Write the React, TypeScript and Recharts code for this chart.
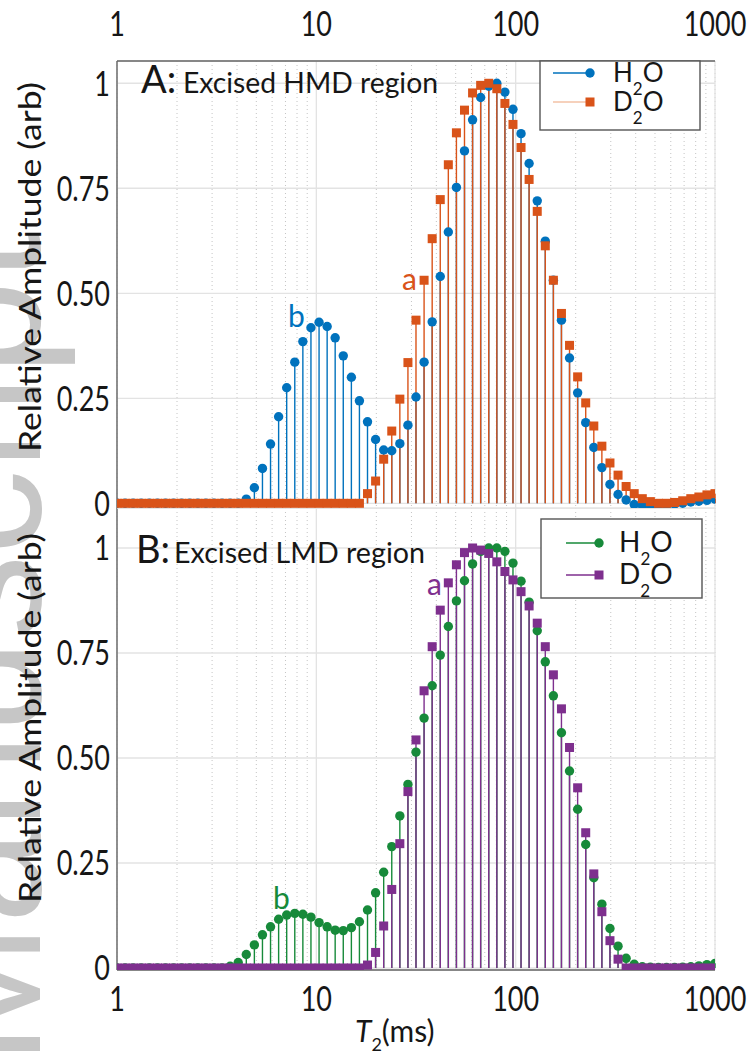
import React from 'react'
import { ScatterChart, Scatter, ErrorBar, XAxis, YAxis, CartesianGrid } from 'recharts'

// T2 grid (ms): 75 log-spaced points, 1 .. 1000
const t2 = [
  1.0, 1.098, 1.205, 1.323, 1.453, 1.595, 1.751, 1.922, 2.11, 2.317,
  2.543, 2.792, 3.065, 3.365, 3.694, 4.056, 4.453, 4.888, 5.367, 5.892,
  6.469, 7.101, 7.796, 8.559, 9.397, 10.32, 11.33, 12.43, 13.65, 14.99,
  16.45, 18.06, 19.83, 21.77, 23.9, 26.24, 28.81, 31.62, 34.72, 38.12,
  41.85, 45.94, 50.44, 55.37, 60.79, 66.74, 73.27, 80.44, 88.31, 96.94,
  106.4, 116.8, 128.3, 140.8, 154.6, 169.7, 186.3, 204.6, 224.6, 246.6,
  270.7, 297.2, 326.3, 358.2, 393.3, 431.8, 474.0, 520.4, 571.3, 627.2,
  688.6, 756.0, 829.9, 911.2, 1000,
]

// A: excised HMD region
const hmdH2O = [
  0, 0, 0, 0, 0, 0, 0, 0, 0, 0,
  0, 0, 0, 0, 0, 0, 0.01, 0.037, 0.083, 0.141,
  0.206, 0.275, 0.336, 0.385, 0.418, 0.431, 0.421, 0.394, 0.351, 0.3,
  0.244, 0.194, 0.152, 0.127, 0.125, 0.142, 0.186, 0.253, 0.336, 0.432,
  0.54, 0.646, 0.752, 0.839, 0.913, 0.966, 0.993, 1.0, 0.979, 0.938,
  0.88, 0.809, 0.72, 0.624, 0.531, 0.436, 0.346, 0.263, 0.192, 0.133,
  0.085, 0.045, 0.021, 0.008, -0.003, -0.005, -0.006, -0.006, -0.005, -0.002,
  0.0, 0.003, 0.005, 0.007, 0.01,
]
const hmdD2O = [
  0, 0, 0, 0, 0, 0, 0, 0, 0, 0,
  0, 0, 0, 0, 0, 0, 0, 0, 0, 0,
  0, 0, 0, 0, 0, 0, 0, 0, 0, 0,
  0, 0.023, 0.053, 0.105, 0.172, 0.248, 0.335, 0.436, 0.531, 0.63,
  0.723, 0.806, 0.882, 0.936, 0.977, 0.995, 1.0, 0.987, 0.952, 0.902,
  0.847, 0.771, 0.695, 0.613, 0.531, 0.452, 0.376, 0.301, 0.239, 0.184,
  0.136, 0.096, 0.067, 0.04, 0.023, 0.011, 0.004, 0.0, 0.0, 0.002,
  0.006, 0.011, 0.015, 0.02, 0.023,
]

// B: excised LMD region
const lmdH2O = [
  0, 0, 0, 0, 0, 0, 0, 0, 0, 0,
  0, 0, 0, 0, 0.004, 0.013, 0.032, 0.055, 0.079, 0.098,
  0.116, 0.126, 0.13, 0.128, 0.121, 0.108, 0.098, 0.09, 0.089, 0.096,
  0.11, 0.138, 0.179, 0.228, 0.289, 0.362, 0.437, 0.514, 0.595, 0.672,
  0.745, 0.813, 0.874, 0.922, 0.962, 0.992, 1.0, 1.0, 0.992, 0.964,
  0.921, 0.871, 0.803, 0.729, 0.648, 0.56, 0.469, 0.378, 0.294, 0.215,
  0.152, 0.094, 0.052, 0.023, 0.009, 0.003, 0.002, 0.001, 0.001, 0.001,
  0.002, 0.003, 0.005, 0.008, 0.011,
]
const lmdD2O = [
  0, 0, 0, 0, 0, 0, 0, 0, 0, 0,
  0, 0, 0, 0, 0, 0, 0, 0, 0, 0,
  0, 0, 0, 0, 0, 0, 0, 0, 0, 0,
  0, 0.007, 0.037, 0.1, 0.187, 0.296, 0.42, 0.543, 0.66, 0.765,
  0.852, 0.917, 0.96, 0.989, 1.0, 0.995, 0.987, 0.967, 0.944, 0.924,
  0.896, 0.862, 0.821, 0.765, 0.698, 0.617, 0.525, 0.429, 0.322, 0.224,
  0.134, 0.065, 0.021, 0, 0, 0, 0, 0, 0, 0,
  0, 0, 0, 0, 0,
]

const xTicks = [1, 10, 100, 1000]
const xTickLabels = ['1', '10', '100', '1000']
const yTicks = [0, 0.25, 0.5, 0.75, 1]
const yTickLabels = ['0', '0.25', '0.50', '0.75', '1']

const xMinor = [2, 3, 4, 5, 6, 7, 8, 9, 20, 30, 40, 50, 60, 70, 80, 90, 200, 300, 400, 500, 600, 700, 800, 900]
const yMinor = Array.from({ length: 45 }, (_, i) => i * 0.025)

const BLUE = '#0072BD'
const ORANGE = '#D95319'
const GREEN = '#178A3A'
const PURPLE = '#7E2F8E'
const FRAME = '#666666'
const INK = '#161616'
const FONT = 'Lato, "Open Sans", sans-serif'

const frameLine = { stroke: FRAME, strokeWidth: 1.4 }

const XTickLabel = (props: any) => {
  const { x, y, payload, top } = props
  const label = xTickLabels[xTicks.indexOf(payload.value)]
  const base = top ? y - 25 : y + 41
  return (
    <text transform={`translate(${x},${base}) scale(1,1.28)`} textAnchor="middle" fontFamily={FONT} fontSize={27} fill={INK}>
      {label}
    </text>
  )
}

const YTickLabel = (props: any) => {
  const { x, y, payload } = props
  const label = yTickLabels[yTicks.indexOf(payload.value)]
  return (
    <text transform={`translate(${x},${y}) scale(1,1.28)`} textAnchor="end" dy="0.36em" fontFamily={FONT} fontSize={27} fill={INK}>
      {label}
    </text>
  )
}

const dot = (color: string) => (p: any) => <circle cx={p.cx} cy={p.cy} r={4.7} fill={color} />
const square = (color: string) => (p: any) => <rect x={p.cx - 4.5} y={p.cy - 4.5} width={9} height={9} fill={color} />

interface PanelProps {
  h2o: number[]
  d2o: number[]
  h2oColor: string
  d2oColor: string
  height: number
  margin: { top: number; right: number; bottom: number; left: number }
  yDomain: [number, number]
  labelsTop: boolean
}

const Panel: React.FC<PanelProps> = ({ h2o, d2o, h2oColor, d2oColor, height, margin, yDomain, labelsTop }) => {
  const h2oData = t2.map((t, i) => ({ t2: t, v: h2o[i], stem: [h2o[i], 0] }))
  const d2oData = t2.map((t, i) => ({ t2: t, v: d2o[i], stem: [d2o[i], 0] }))
  const xCommon = { type: 'number' as const, scale: 'log' as const, domain: [1, 1000], allowDataOverflow: true, dataKey: 't2' }
  const yCommon = { type: 'number' as const, domain: yDomain, allowDataOverflow: true, dataKey: 'v' }
  const blank = () => ''
  const minorTick = { stroke: FRAME, strokeWidth: 1 }

  return (
    <ScatterChart width={747} height={height} margin={margin} style={{ overflow: 'visible' }}>
      <CartesianGrid xAxisId="xmt" yAxisId="y" horizontal={false} stroke="#c4c4c4" strokeDasharray="1 3" />
      <CartesianGrid xAxisId="x" yAxisId="y" stroke="#e3e3e3" strokeWidth={1.3} />

      <Scatter xAxisId="x" yAxisId="y" data={h2oData} fill={h2oColor} shape={dot(h2oColor)} isAnimationActive={false}>
        <ErrorBar dataKey="stem" direction="y" width={0} stroke={h2oColor} strokeWidth={1.4} isAnimationActive={false} />
      </Scatter>
      <Scatter xAxisId="x" yAxisId="y" data={d2oData} fill={d2oColor} shape={square(d2oColor)} isAnimationActive={false}>
        <ErrorBar dataKey="stem" direction="y" width={0} stroke={d2oColor} strokeWidth={1.4} isAnimationActive={false} />
      </Scatter>

      <XAxis
        xAxisId="x"
        {...xCommon}
        ticks={xTicks}
        interval={0}
        orientation={labelsTop ? 'top' : 'bottom'}
        height={40}
        tickLine={false}
        tickSize={0}
        tickMargin={0}
        axisLine={frameLine}
        tick={(p: any) => <XTickLabel {...p} top={labelsTop} />}
      />
      <XAxis xAxisId="xmt" {...xCommon} ticks={xMinor} interval={0} orientation="top" mirror height={0} tickSize={5}
        tickLine={minorTick} axisLine={labelsTop ? false : frameLine} tickFormatter={blank} />
      <XAxis xAxisId="xmb" {...xCommon} ticks={xMinor} interval={0} orientation="bottom" mirror height={0} tickSize={5}
        tickLine={minorTick} axisLine={labelsTop ? frameLine : false} tickFormatter={blank} />

      <YAxis
        yAxisId="y"
        {...yCommon}
        ticks={yTicks}
        interval={0}
        width={60}
        tickLine={false}
        tickSize={0}
        tickMargin={7}
        axisLine={frameLine}
        tick={(p: any) => <YTickLabel {...p} />}
      />
      <YAxis yAxisId="yl1" {...yCommon} ticks={yMinor} interval={0} mirror width={0} tickSize={4} tickLine={minorTick} axisLine={false} tickFormatter={blank} />
      <YAxis yAxisId="yl2" {...yCommon} ticks={yTicks} interval={0} mirror width={0} tickSize={7} tickLine={minorTick} axisLine={false} tickFormatter={blank} />
      <YAxis yAxisId="yr1" {...yCommon} ticks={yMinor} interval={0} orientation="right" mirror width={0} tickSize={4} tickLine={minorTick} axisLine={frameLine} tickFormatter={blank} />
      <YAxis yAxisId="yr2" {...yCommon} ticks={yTicks} interval={0} orientation="right" mirror width={0} tickSize={7} tickLine={minorTick} axisLine={false} tickFormatter={blank} />
    </ScatterChart>
  )
}

const LegendBox = ({ x, y, w, h, c1, c2, line2, row1, row2, lx1, lx2, tx, fs }: any) => (
  <g>
    <rect x={x} y={y} width={w} height={h} fill="#fff" stroke="#555" strokeWidth={1.4} />
    <line x1={lx1} x2={lx2} y1={row1} y2={row1} stroke={c1} strokeWidth={1.5} />
    <circle cx={lx2} cy={row1} r={4.7} fill={c1} />
    <text x={tx} y={row1 + 9} fontFamily={FONT} fontSize={fs} fill={INK}>
      H<tspan fontSize={17} dy={13}>2</tspan><tspan dy={-13}>O</tspan>
    </text>
    <line x1={lx1} x2={lx2} y1={row2} y2={row2} stroke={line2} strokeWidth={1.5} />
    <rect x={lx2 - 4.5} y={row2 - 4.5} width={9} height={9} fill={c2} />
    <text x={tx} y={row2 + 9} fontFamily={FONT} fontSize={fs} fill={INK}>
      D<tspan fontSize={17} dy={13}>2</tspan><tspan dy={-13}>O</tspan>
    </text>
  </g>
)

export default function App() {
  return (
    <div style={{ position: 'absolute', left: 0, top: 0, width: 747, height: 1055, background: '#fff', overflow: 'hidden' }}>
      <svg width={747} height={1055} style={{ position: 'absolute', left: 0, top: 0 }}>
        <text transform="translate(40,1065) rotate(-90)" fontFamily='"Liberation Sans", Arial, sans-serif' fontSize={170} fill="#c6c6c6">
          Manuscript
        </text>
      </svg>

      <div style={{ position: 'absolute', left: 0, top: 508 }}>
        <Panel h2o={lmdH2O} d2o={lmdD2O} h2oColor={GREEN} d2oColor={PURPLE} height={547}
          margin={{ top: 0, right: 32, bottom: 45, left: 57 }} yDomain={[-0.0048, 1.0952]} labelsTop={false} />
      </div>
      <div style={{ position: 'absolute', left: 0, top: 0 }}>
        <Panel h2o={hmdH2O} d2o={hmdD2O} h2oColor={BLUE} d2oColor={ORANGE} height={530}
          margin={{ top: 21, right: 32, bottom: 22, left: 57 }} yDomain={[-0.0112, 1.053]} labelsTop />
      </div>

      <svg width={747} height={1055} style={{ position: 'absolute', left: 0, top: 0, pointerEvents: 'none' }}>
        {/* y-axis titles */}
        <text transform="translate(41,267) rotate(-90)" textAnchor="middle" fontFamily={FONT} fontSize={30} fill={INK}
          textLength={370} lengthAdjust="spacingAndGlyphs">Relative Amplitude (arb)</text>
        <text transform="translate(41,718) rotate(-90)" textAnchor="middle" fontFamily={FONT} fontSize={30} fill={INK}
          textLength={370} lengthAdjust="spacingAndGlyphs">Relative Amplitude (arb)</text>

        {/* x-axis title */}
        <text x={355} y={1042} fontFamily={FONT} fontSize={30} fill={INK}>
          <tspan fontStyle="italic">T</tspan>
          <tspan fontSize={18} dy={9}>2</tspan>
          <tspan dy={-9}>(ms)</tspan>
        </text>

        {/* panel titles */}
        <text x={141} y={93} fontFamily={FONT} fontSize={38} fill={INK}>A:</text>
        <text x={183} y={93} fontFamily={FONT} fontSize={29} fill={INK} textLength={255} lengthAdjust="spacingAndGlyphs">Excised HMD region</text>
        <text x={136} y={563} fontFamily={FONT} fontSize={38} fill={INK}>B:</text>
        <text x={174} y={563} fontFamily={FONT} fontSize={29} fill={INK} textLength={251} lengthAdjust="spacingAndGlyphs">Excised LMD region</text>

        {/* peak labels */}
        <text x={288} y={327} fontFamily={FONT} fontSize={30} fill={BLUE}>b</text>
        <text x={402} y={290} fontFamily={FONT} fontSize={30} fill={ORANGE}>a</text>
        <text x={273} y={909} fontFamily={FONT} fontSize={30} fill={GREEN}>b</text>
        <text x={427} y={595} fontFamily={FONT} fontSize={30} fill={PURPLE}>a</text>

        <LegendBox x={540} y={61} w={160} h={69} c1={BLUE} c2={ORANGE} line2="#f3c2a6"
          row1={73} row2={102} lx1={553} lx2={590} tx={613} fs={26} />
        <LegendBox x={541} y={519} w={161} h={79} c1={GREEN} c2={PURPLE} line2={PURPLE}
          row1={543} row2={575} lx1={566} lx2={599} tx={619} fs={28} />
      </svg>
    </div>
  )
}
